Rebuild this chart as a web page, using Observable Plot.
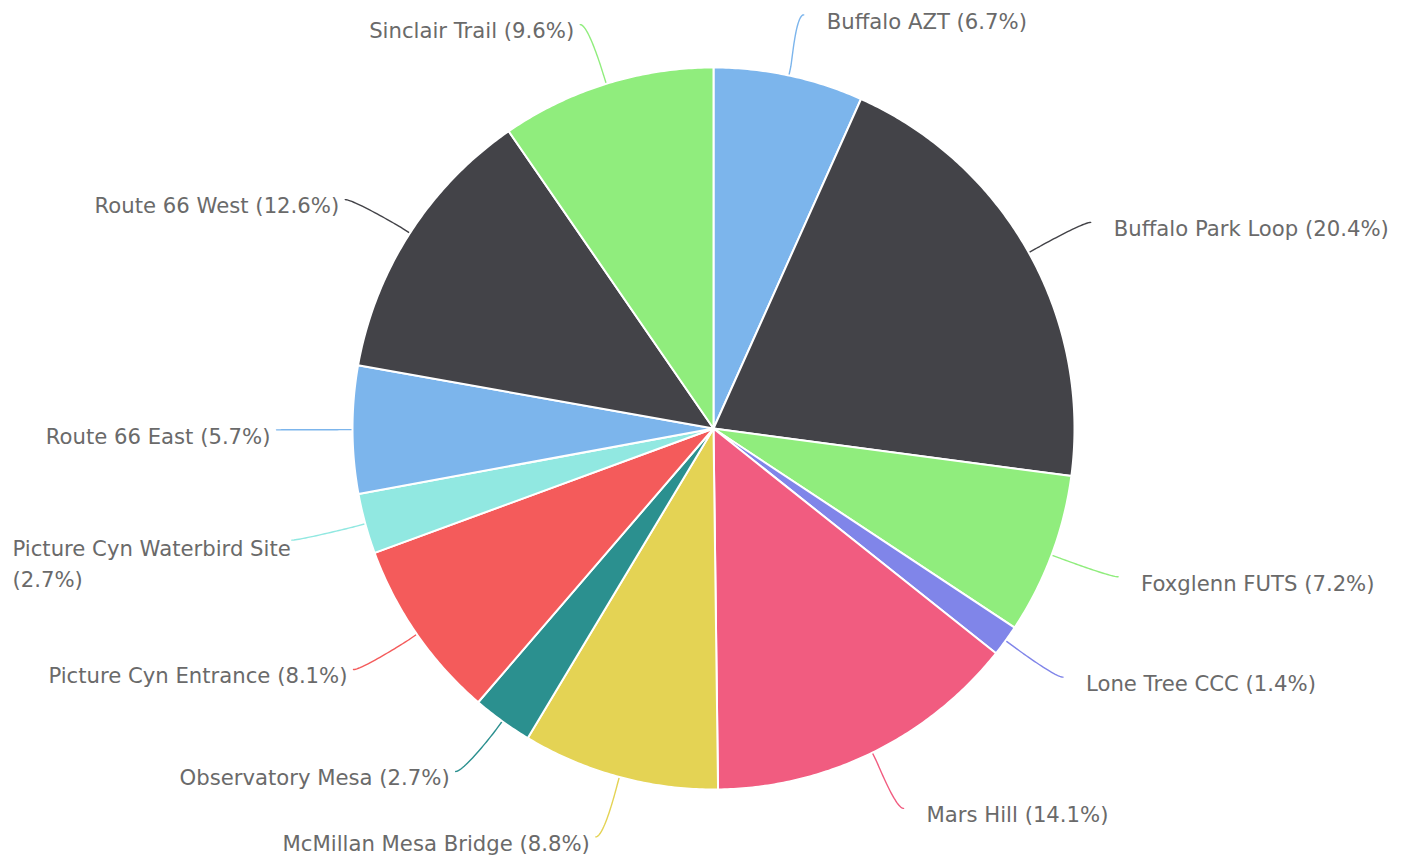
<!DOCTYPE html>
<html><head><meta charset="utf-8">
<script src="https://cdn.jsdelivr.net/npm/d3@7"></script>
<script src="https://cdn.jsdelivr.net/npm/@observablehq/plot@0.6"></script>
<style>body{margin:0;background:#fff} svg{display:block}</style>
</head><body><div id="chart"></div>
<script>
const categories = ["Buffalo AZT","Buffalo Park Loop","Foxglenn FUTS","Lone Tree CCC","Mars Hill","McMillan Mesa Bridge","Observatory Mesa","Picture Cyn Entrance","Picture Cyn Waterbird Site","Route 66 East","Route 66 West","Sinclair Trail"];
const percents = [6.7,20.4,7.2,1.4,14.1,8.8,2.7,8.1,2.7,5.7,12.6,9.6];
const colors = ["#7cb5ec","#434348","#90ed7d","#8085e9","#f15c80","#e4d354","#2b908f","#f45b5b","#91e8e1","#7cb5ec","#434348","#90ed7d"];

const W = 1406, H = 857;
const cx = 713, cy = 428, r = 361;
const Rx = 432, Ry = 423;
const fontSize = 21.2;
const fontFamily = "'DejaVu Sans', sans-serif";
const labelColor = "#6a6a6a";

const arcs = d3.pie().sort(null).value(d => d)(percents);

// slice polygons
const slicePts = [];
arcs.forEach((p, i) => {
  const n = Math.max(2, Math.ceil((p.endAngle - p.startAngle) / (Math.PI / 360)));
  slicePts.push({name: categories[i], x: cx, y: cy, color: colors[i]});
  for (let k = 0; k <= n; k++) {
    const t = p.startAngle + (p.endAngle - p.startAngle) * k / n;
    slicePts.push({name: categories[i], x: cx + r * Math.sin(t), y: cy - r * Math.cos(t), color: colors[i]});
  }
});

// label layout + connectors
const ctx = document.createElement("canvas").getContext("2d");
ctx.font = `${fontSize}px ${fontFamily}`;
const connPts = [];
const labelsStart = [], labelsEnd = [];
arcs.forEach((p, i) => {
  const a = (p.startAngle + p.endAngle) / 2;
  const right = a < Math.PI;
  const s = right ? 1 : -1;
  const ax = cx + Rx * Math.sin(a) + (right ? 0 : -5);
  const ay = cy - Ry * Math.cos(a);
  const E = [cx + r * Math.sin(a), cy - r * Math.cos(a)];
  const off = 8;
  const P3 = [cx + (r + off) * Math.sin(a), cy - (r + off) * Math.cos(a)];
  const C2 = [2 * P3[0] - E[0], 2 * P3[1] - E[1]];
  const P0 = [ax, ay];
  const C1 = [ax - s * 8, ay];
  const N = 30;
  for (let k = 0; k <= N; k++) {
    const t = k / N, u = 1 - t;
    const x = u*u*u*P0[0] + 3*u*u*t*C1[0] + 3*u*t*t*C2[0] + t*t*t*P3[0];
    const y = u*u*u*P0[1] + 3*u*u*t*C1[1] + 3*u*t*t*C2[1] + t*t*t*P3[1];
    connPts.push({name: categories[i], x, y, color: colors[i]});
  }
  connPts.push({name: categories[i], x: E[0], y: E[1], color: colors[i]});

  const text = `${categories[i]} (${percents[i].toFixed(1)}%)`;
  const ly = ay + 7;
  if (right) {
    labelsStart.push({x: ax + 23, y: ly, text});
  } else {
    const endX = ax - 6;
    const w = ctx.measureText(text).width;
    if (endX - w < 10) {
      const maxW = ax - 4;
      const words = text.split(" ");
      const lines = [];
      let cur = "";
      for (const wd of words) {
        const test = cur ? cur + " " + wd : wd;
        if (ctx.measureText(test).width > maxW && cur) { lines.push(cur); cur = wd; }
        else cur = test;
      }
      if (cur) lines.push(cur);
      lines.forEach((ln, j) => labelsStart.push({x: 12, y: ly + 2 + j * 31, text: ln}));
    } else {
      labelsEnd.push({x: endX, y: ly, text});
    }
  }
});

const chart = Plot.plot({
  width: W, height: H, margin: 0,
  x: {type: "linear", domain: [0, W], range: [0, W], axis: null},
  y: {type: "linear", domain: [0, H], range: [0, H], axis: null},
  color: {type: "identity"},
  style: {fontFamily, background: "white"},
  marks: [
    Plot.line(connPts, {x: "x", y: "y", z: "name", stroke: "color", strokeWidth: 1.4, curve: "linear"}),
    Plot.line(slicePts, {x: "x", y: "y", z: "name", fill: "color", stroke: "white", strokeWidth: 2, strokeLinejoin: "round", curve: "linear-closed"}),
    Plot.text(labelsStart, {x: "x", y: "y", text: "text", textAnchor: "start", lineAnchor: "middle", fontSize, fill: labelColor}),
    Plot.text(labelsEnd, {x: "x", y: "y", text: "text", textAnchor: "end", lineAnchor: "middle", fontSize, fill: labelColor})
  ]
});
document.getElementById("chart").appendChild(chart);
</script>
</body></html>
